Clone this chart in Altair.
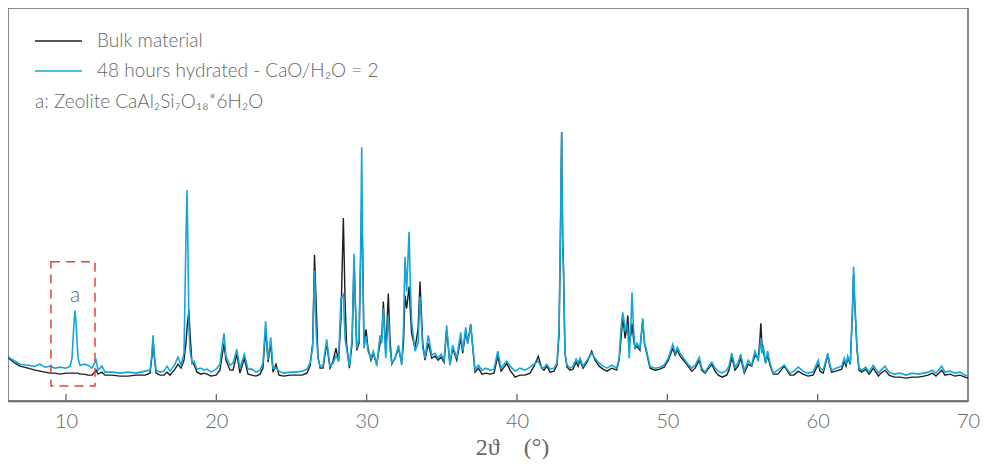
import altair as alt
import pandas as pd

# 2-theta positions (degrees) and intensities (a.u.)
two_theta = [6.0, 6.27, 6.61, 6.94, 7.47, 7.94, 8.27, 8.60, 8.94, 9.27, 9.60, 10.0, 10.27, 10.40, 10.53, 10.60, 10.67, 10.80, 10.93, 11.20,
             11.46, 11.73, 12.0, 12.13, 12.39, 12.59, 13.06, 13.59, 14.12, 14.66, 15.26, 15.59, 15.72, 15.79, 15.85, 15.99, 16.25, 16.52, 16.72, 16.92,
             17.25, 17.45, 17.65, 17.85, 17.98, 18.05, 18.11, 18.18, 18.25, 18.38, 18.51, 18.71, 18.98, 19.18, 19.38, 19.65, 19.98, 20.24, 20.51, 20.64,
             20.91, 21.11, 21.36, 21.57, 21.86, 22.11, 22.37, 22.64, 22.91, 23.10, 23.28, 23.44, 23.62, 23.77, 23.97, 24.17, 24.50, 24.90, 25.30, 25.70,
             26.03, 26.23, 26.41, 26.53, 26.63, 26.76, 26.90, 27.10, 27.34, 27.56, 27.76, 27.96, 28.13, 28.29, 28.45, 28.56, 28.66, 28.85, 29.03, 29.16,
             29.34, 29.49, 29.60, 29.67, 29.73, 29.82, 29.96, 30.09, 30.29, 30.44, 30.67, 30.89, 31.00, 31.11, 31.27, 31.44, 31.55, 31.67, 31.89, 32.12,
             32.33, 32.45, 32.55, 32.66, 32.82, 32.91, 32.99, 33.22, 33.42, 33.55, 33.73, 33.88, 34.10, 34.33, 34.55, 34.75, 34.95, 35.15, 35.32, 35.54,
             35.72, 35.99, 36.26, 36.39, 36.59, 36.72, 36.92, 37.09, 37.21, 37.43, 37.67, 37.94, 38.20, 38.47, 38.72, 38.94, 39.14, 39.32, 39.54, 39.87,
             40.20, 40.53, 40.87, 41.13, 41.42, 41.64, 41.80, 41.98, 42.20, 42.46, 42.66, 42.80, 42.90, 42.97, 43.04, 43.09, 43.19, 43.33, 43.53, 43.73,
             43.93, 44.06, 44.19, 44.39, 44.66, 44.97, 45.19, 45.46, 45.72, 45.99, 46.30, 46.63, 46.79, 46.92, 47.03, 47.12, 47.19, 47.29, 47.37, 47.47,
             47.59, 47.65, 47.75, 47.85, 47.98, 48.18, 48.36, 48.48, 48.58, 48.85, 49.18, 49.51, 49.78, 50.07, 50.36, 50.52, 50.67, 50.85, 51.18, 51.38,
             51.63, 51.85, 52.12, 52.29, 52.51, 52.71, 52.96, 53.17, 53.39, 53.64, 53.95, 54.10, 54.28, 54.40, 54.50, 54.70, 54.88, 55.12, 55.38, 55.61,
             55.83, 56.05, 56.16, 56.22, 56.29, 56.38, 56.54, 56.67, 56.83, 57.05, 57.36, 57.78, 58.16, 58.42, 58.71, 59.02, 59.36, 59.69, 60.04, 60.15,
             60.37, 60.55, 60.67, 60.79, 60.93, 61.22, 61.60, 61.77, 61.89, 62.00, 62.17, 62.31, 62.39, 62.46, 62.53, 62.62, 62.75, 62.93, 63.20, 63.42,
             63.70, 64.04, 64.21, 64.48, 64.75, 65.08, 65.48, 65.88, 66.28, 66.68, 67.07, 67.34, 67.63, 67.87, 68.25, 68.47, 68.80, 69.14, 69.47, 69.80,
             70.0]

bulk = [46, 42, 38, 35, 33, 31, 30, 29, 28, 28, 27, 28, 28, 28, 28, 28, 28, 28, 27, 27,
        26, 26, 31, 27, 29, 26, 26, 25, 25, 26, 26, 28, 45, 63, 48, 28, 26, 26, 29, 26,
        32, 37, 33, 41, 58, 73, 83, 91, 68, 38, 37, 29, 27, 28, 27, 25, 26, 31, 58, 41,
        31, 31, 47, 28, 43, 27, 26, 25, 27, 33, 73, 39, 58, 29, 37, 26, 25, 26, 26, 26,
        28, 35, 58, 147, 103, 45, 33, 33, 58, 33, 40, 53, 40, 83, 184, 103, 58, 33, 58, 141,
        51, 58, 143, 196, 153, 58, 72, 53, 41, 48, 37, 58, 63, 100, 48, 108, 63, 37, 43, 53,
        38, 58, 106, 93, 115, 88, 68, 53, 73, 120, 58, 41, 58, 43, 45, 41, 44, 39, 71, 37,
        53, 41, 63, 48, 70, 58, 77, 48, 29, 33, 27, 28, 27, 28, 45, 30, 34, 38, 31, 24,
        26, 26, 28, 35, 45, 33, 31, 35, 29, 30, 36, 68, 178, 270, 163, 138, 48, 34, 31, 32,
        39, 35, 41, 33, 39, 50, 41, 35, 32, 30, 33, 31, 41, 63, 83, 73, 63, 73, 86, 58,
        68, 78, 63, 53, 55, 51, 81, 58, 51, 33, 31, 32, 34, 41, 53, 46, 51, 45, 39, 35,
        30, 33, 41, 31, 28, 32, 37, 30, 26, 24, 26, 31, 43, 38, 31, 35, 43, 28, 37, 35,
        46, 43, 63, 78, 58, 51, 38, 46, 36, 27, 27, 35, 26, 26, 30, 27, 25, 26, 37, 30,
        28, 39, 46, 36, 29, 30, 32, 40, 35, 43, 37, 88, 128, 98, 78, 51, 31, 29, 32, 27,
        33, 25, 28, 31, 26, 24, 24, 23, 24, 24, 25, 26, 28, 25, 31, 26, 27, 25, 26, 24,
        23]

hydrated = [48, 43, 40, 37, 36, 35, 37, 34, 35, 33, 34, 33, 35, 43, 78, 91, 78, 43, 36, 37,
            36, 33, 41, 31, 35, 29, 29, 28, 29, 28, 30, 31, 48, 66, 51, 31, 29, 30, 35, 30,
            37, 44, 36, 48, 163, 212, 153, 73, 51, 38, 40, 32, 33, 31, 32, 29, 32, 37, 68, 45,
            36, 38, 52, 33, 47, 32, 32, 29, 31, 38, 80, 41, 64, 33, 33, 30, 28, 29, 29, 30,
            32, 38, 53, 131, 73, 43, 35, 36, 62, 35, 38, 45, 41, 103, 107, 63, 53, 35, 63, 148,
            53, 62, 153, 255, 153, 53, 65, 50, 43, 50, 35, 66, 58, 93, 43, 86, 53, 38, 43, 56,
            36, 73, 145, 110, 170, 113, 80, 50, 58, 105, 53, 43, 66, 46, 48, 43, 47, 41, 76, 36,
            56, 43, 69, 50, 74, 58, 76, 50, 31, 36, 31, 33, 31, 32, 50, 33, 37, 40, 35, 30,
            33, 31, 34, 37, 40, 33, 34, 37, 32, 33, 38, 73, 183, 270, 150, 133, 48, 36, 33, 35,
            42, 38, 43, 35, 41, 48, 43, 38, 35, 33, 36, 33, 43, 73, 89, 81, 70, 78, 70, 43,
            83, 109, 73, 53, 58, 53, 83, 58, 53, 35, 33, 34, 36, 43, 57, 48, 54, 48, 41, 37,
            33, 36, 44, 33, 29, 34, 39, 33, 30, 28, 31, 35, 48, 41, 34, 38, 47, 30, 41, 36,
            50, 40, 55, 63, 48, 56, 38, 50, 38, 28, 31, 36, 28, 30, 34, 30, 28, 29, 41, 33,
            31, 41, 48, 38, 31, 33, 35, 43, 37, 45, 38, 93, 135, 103, 81, 53, 33, 31, 34, 29,
            36, 28, 31, 35, 29, 27, 28, 26, 28, 27, 28, 29, 31, 28, 35, 29, 30, 28, 29, 26,
            25]

series_names = ["Bulk material", "48 hours hydrated - CaO/H\u2082O = 2"]
note_text = "a: Zeolite CaAl\u2082Si\u2087O\u2081\u2088*6H\u2082O"
tick_values = [10, 20, 30, 40, 50, 60, 70]
box_theta = [9.0, 11.93]
box_intensity = [15, 140]
box_label = "a"
box_label_pos = [10.6, 106]

W, H = 960, 393
X_DOMAIN = [6.142, 70]
Y_DOMAIN = [0, 395]

BLUE = "#14a6d9"
BLACK = "#1e1e1e"
GRAY = "#666666"
FONT = "Lato"

df = pd.DataFrame({"theta": two_theta, "bulk": bulk, "hydrated": hydrated})

xs = alt.Scale(domain=X_DOMAIN, nice=False, zero=False)
ys = alt.Scale(domain=Y_DOMAIN, nice=False, zero=False)

x_axis = alt.Axis(values=tick_values, ticks=False, grid=False, labelFontSize=20, labelColor=GRAY,
                  labelFont=FONT, labelFontWeight=300, labelPadding=10, domainColor=GRAY, domainWidth=1.5,
                  title="2\u03d1\u00a0\u00a0\u00a0\u00a0(\u00b0)", titleFont="Liberation Serif", titleFontSize=24,
                  titleFontWeight="normal", titleColor=GRAY, titlePadding=4, titleX=504, titleAlign="center",
                  labelFlush=False)

base = alt.Chart(df)

bulk_line = base.mark_line(color=BLACK, strokeWidth=1.4, clip=True).encode(
    x=alt.X("theta:Q", scale=xs, axis=x_axis),
    y=alt.Y("bulk:Q", scale=ys, axis=None),
)
hyd_line = base.mark_line(color=BLUE, strokeWidth=1.6, clip=True).encode(
    x=alt.X("theta:Q", scale=xs),
    y=alt.Y("hydrated:Q", scale=ys),
)

ticks_df = pd.DataFrame({"t": tick_values[:-1]})
tick_marks = alt.Chart(ticks_df).mark_rule(color=GRAY, strokeWidth=1.3).encode(
    x=alt.X("t:Q", scale=xs), y=alt.value(H - 7), y2=alt.value(H)
)

box_df = pd.DataFrame({"x1": [box_theta[0]], "x2": [box_theta[1]], "y1": [box_intensity[0]], "y2": [box_intensity[1]]})
box = alt.Chart(box_df).mark_rect(fillOpacity=0, stroke="#e8403a", strokeWidth=1.5, strokeDash=[9, 6]).encode(
    x=alt.X("x1:Q", scale=xs), x2="x2:Q", y=alt.Y("y1:Q", scale=ys), y2="y2:Q"
)
lab_df = pd.DataFrame({"x": [box_label_pos[0]], "y": [box_label_pos[1]], "t": [box_label]})
box_lab = alt.Chart(lab_df).mark_text(font=FONT, fontSize=21, fontWeight=300, color=GRAY, baseline="middle").encode(
    x=alt.X("x:Q", scale=xs), y=alt.Y("y:Q", scale=ys), text="t:N"
)

leg_df = pd.DataFrame({"name": series_names})
leg_rule_black = alt.Chart(leg_df.iloc[[0]]).mark_rule(color=BLACK, strokeWidth=1.4).encode(
    x=alt.value(27), x2=alt.value(74), y=alt.value(33)
)
leg_rule_blue = alt.Chart(leg_df.iloc[[1]]).mark_rule(color=BLUE, strokeWidth=1.6).encode(
    x=alt.value(27), x2=alt.value(74), y=alt.value(63)
)
leg_text1 = alt.Chart(leg_df.iloc[[0]]).mark_text(font=FONT, fontSize=19, fontWeight=300, color=GRAY,
                                                  align="left", baseline="middle").encode(
    x=alt.value(89), y=alt.value(33), text="name:N")
leg_text2 = alt.Chart(leg_df.iloc[[1]]).mark_text(font=FONT, fontSize=19, fontWeight=300, color=GRAY,
                                                  align="left", baseline="middle").encode(
    x=alt.value(89), y=alt.value(63), text="name:N")
note_df = pd.DataFrame({"t": [note_text]})
leg_text3 = alt.Chart(note_df).mark_text(font=FONT, fontSize=19, fontWeight=300, color=GRAY,
                                         align="left", baseline="middle").encode(
    x=alt.value(27), y=alt.value(94), text="t:N")

chart = alt.layer(
    bulk_line, hyd_line, tick_marks, box, box_lab,
    leg_rule_black, leg_rule_blue, leg_text1, leg_text2, leg_text3
).properties(width=W, height=H, padding=0
).configure_view(stroke=GRAY, strokeWidth=1.5)

chart.save("out.html", embed_options={"renderer": "svg", "actions": False})
